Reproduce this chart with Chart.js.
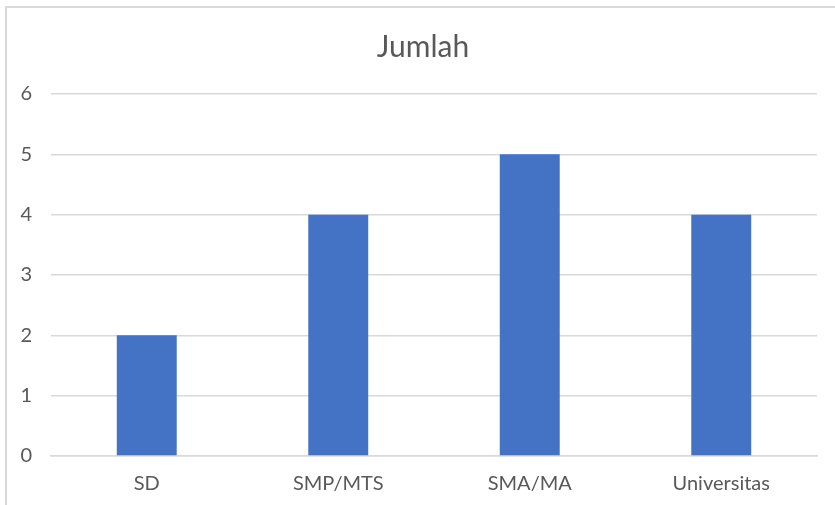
<!DOCTYPE html>
<html>
<head>
<meta charset="utf-8">
<script src="https://cdn.jsdelivr.net/npm/chart.js@4/dist/chart.umd.min.js"></script>
<style>
    html, body { margin: 0; padding: 0; background: #fff; overflow: hidden; }
    #frame {
        position: absolute; left: 5px; top: 6px;
        width: 900px; height: 600px;
        border: 2px solid #d9d9d9;
    }
    #wrap { position: absolute; left: 0; top: 0; width: 835px; height: 505px; }
</style>
</head>
<body>
<div id="frame"></div>
<div id="wrap"><canvas id="chart" width="835" height="505"></canvas></div>
<script>
const categories = ["SD", "SMP/MTS", "SMA/MA", "Universitas"];
const jumlah = [2, 4, 5, 4];
const yTicks = [0, 1, 2, 3, 4, 5, 6];

const FONT = "Lato, 'Open Sans', sans-serif";
const textColor = "#595959";
const gridColor = "#d9d9d9";

new Chart(document.getElementById("chart"), {
    type: "bar",
    data: {
        labels: categories,
        datasets: [{
            label: "Jumlah",
            data: jumlah,
            backgroundColor: "#4472C4",
            borderWidth: 0,
            barPercentage: 0.313,
            categoryPercentage: 1
        }]
    },
    options: {
        responsive: false,
        animation: false,
        // uneven padding + empty right axis so the title lands where the original has it
        layout: { padding: { left: 18, right: 7, top: 0, bottom: 0 } },
        plugins: {
            legend: { display: false },
            tooltip: { enabled: false },
            title: {
                display: true,
                text: "Jumlah",
                color: textColor,
                font: { family: FONT, size: 30, weight: "normal" },
                padding: { top: 29, bottom: 29 }
            }
        },
        scales: {
            x: {
                grid: { display: false, drawTicks: false },
                border: { display: true, color: gridColor, width: 1.5 },
                ticks: {
                    color: textColor,
                    font: { family: FONT, size: 20 },
                    padding: 16,
                    maxRotation: 0
                },
                afterFit: (scale) => { scale.height = 49; }
            },
            y: {
                min: 0,
                max: 6,
                afterBuildTicks: (scale) => {
                    scale.ticks = yTicks.map(v => ({ value: v }));
                },
                grid: { color: gridColor, lineWidth: 1.5, drawTicks: false },
                border: { display: false },
                ticks: {
                    color: textColor,
                    font: { family: FONT, size: 20 },
                    padding: 19
                },
                afterFit: (scale) => { scale.width = 33; }
            },
            spacer: {
                position: "right",
                min: 0,
                max: 6,
                grid: { display: false, drawTicks: false },
                border: { display: false },
                ticks: { display: false },
                afterFit: (scale) => { scale.width = 11; }
            }
        }
    }
});
</script>
</body>
</html>
